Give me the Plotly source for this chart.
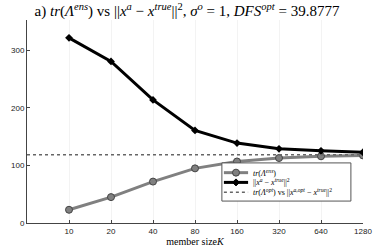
import plotly.graph_objects as go

member_size = ["10", "20", "40", "80", "160", "320", "640", "1280"]
tr_ens = [23, 45, 72, 95, 107, 113, 116, 117.5]
err_a = [322, 281, 214, 161, 139, 129, 125.5, 123]
tr_opt = 118.8
y_ticks = [0, 100, 200, 300]

legend_labels = [
    "<i>tr</i>(<i>Λ</i><sup><i>ens</i></sup>)",
    "||<i>x</i><sup><i>a</i></sup> − <i>x</i><sup><i>true</i></sup>||<sup>2</sup>",
    "<i>tr</i>(<i>Λ</i><sup><i>opt</i></sup>) vs ||<i>x</i><sup><i>a,opt</i></sup> − <i>x</i><sup><i>true</i></sup>||<sup>2</sup>",
]

xpos = list(range(1, len(member_size) + 1))
GRAY = "#808080"

fig = go.Figure()
fig.add_trace(go.Scatter(
    x=xpos, y=tr_ens, mode="lines+markers",
    line=dict(color=GRAY, width=3),
    marker=dict(symbol="circle", size=7, color=GRAY, line=dict(color="#444", width=1)),
    name=legend_labels[0], showlegend=False))
fig.add_trace(go.Scatter(
    x=xpos, y=err_a, mode="lines+markers",
    line=dict(color="black", width=3),
    marker=dict(symbol="diamond", size=6, color="black"),
    name=legend_labels[1], showlegend=False))
fig.add_trace(go.Scatter(
    x=[0, len(member_size)], y=[tr_opt, tr_opt], mode="lines",
    line=dict(color="#666", width=1.5, dash="dot"),
    name=legend_labels[2], showlegend=False))

# custom compact legend (paper coordinates)
lx0, lx1, ly0, ly1 = 0.580, 0.964, 0.108, 0.296
rows = [0.248, 0.200, 0.151]
sx0, sx1, sm, tx = 0.586, 0.658, 0.622, 0.668
shapes = [dict(type="rect", xref="paper", yref="paper", x0=lx0, x1=lx1, y0=ly0, y1=ly1,
               line=dict(color="#555", width=1), fillcolor="white", layer="above")]
shapes.append(dict(type="line", xref="paper", yref="paper", x0=sx0, x1=sx1, y0=rows[0], y1=rows[0],
                   line=dict(color=GRAY, width=3), layer="above"))
shapes.append(dict(type="circle", xref="paper", yref="paper", xsizemode="pixel", ysizemode="pixel",
                   xanchor=sm, yanchor=rows[0], x0=-3.5, x1=3.5, y0=-3.5, y1=3.5,
                   fillcolor=GRAY, line=dict(color="#444", width=1), layer="above"))
shapes.append(dict(type="line", xref="paper", yref="paper", x0=sx0, x1=sx1, y0=rows[1], y1=rows[1],
                   line=dict(color="black", width=3), layer="above"))
shapes.append(dict(type="path", xref="paper", yref="paper", xsizemode="pixel", ysizemode="pixel",
                   xanchor=sm, yanchor=rows[1], path="M -3.5,0 L 0,3.5 L 3.5,0 L 0,-3.5 Z",
                   fillcolor="black", line=dict(color="black", width=1), layer="above"))
shapes.append(dict(type="line", xref="paper", yref="paper", x0=sx0, x1=sx1, y0=rows[2], y1=rows[2],
                   line=dict(color="#666", width=1.5, dash="dot"), layer="above"))
annotations = [dict(x=tx, y=r, xref="paper", yref="paper", text=t, showarrow=False,
                    xanchor="left", yanchor="middle",
                    font=dict(family="Liberation Serif", size=8, color="black"))
               for r, t in zip(rows, legend_labels)]

fig.update_layout(
    width=374, height=249,
    margin=dict(l=27, r=11, t=20, b=26, autoexpand=False),
    paper_bgcolor="white", plot_bgcolor="white",
    title=dict(
        text="a) <i>tr</i>(<i>Λ</i><sup><i>ens</i></sup>) vs ||<i>x</i><sup><i>a</i></sup> − <i>x</i><sup><i>true</i></sup>||<sup>2</sup>, <i>σ</i><sup><i>o</i></sup> = 1, <i>DFS</i><sup><i>opt</i></sup> = 39.8777",
        x=0.5, xanchor="center", yref="container", y=0.955, yanchor="middle",
        font=dict(family="Liberation Serif", size=15, color="black")),
    font=dict(family="Liberation Sans", size=8, color="#222"),
    showlegend=False,
    shapes=shapes,
    annotations=annotations,
)
fig.update_xaxes(
    automargin=False,
    range=[0, len(member_size)], tickvals=xpos, ticktext=member_size,
    ticks="inside", ticklen=3, tickcolor="#444",
    showline=True, linecolor="#444", linewidth=1,
    showgrid=True, gridcolor="#f3f3f3", zeroline=False,
    title=dict(text="member size<i>K</i>", font=dict(family="Liberation Serif", size=10, color="black"), standoff=2))
fig.update_yaxes(
    automargin=False,
    range=[0, 353], tickvals=y_ticks,
    ticks="inside", ticklen=3, tickcolor="#444",
    showline=True, linecolor="#444", linewidth=1,
    showgrid=False, zeroline=False)

fig.write_html("out.html", config={"displayModeBar": False},
               post_script="document.body.style.margin='0';")
